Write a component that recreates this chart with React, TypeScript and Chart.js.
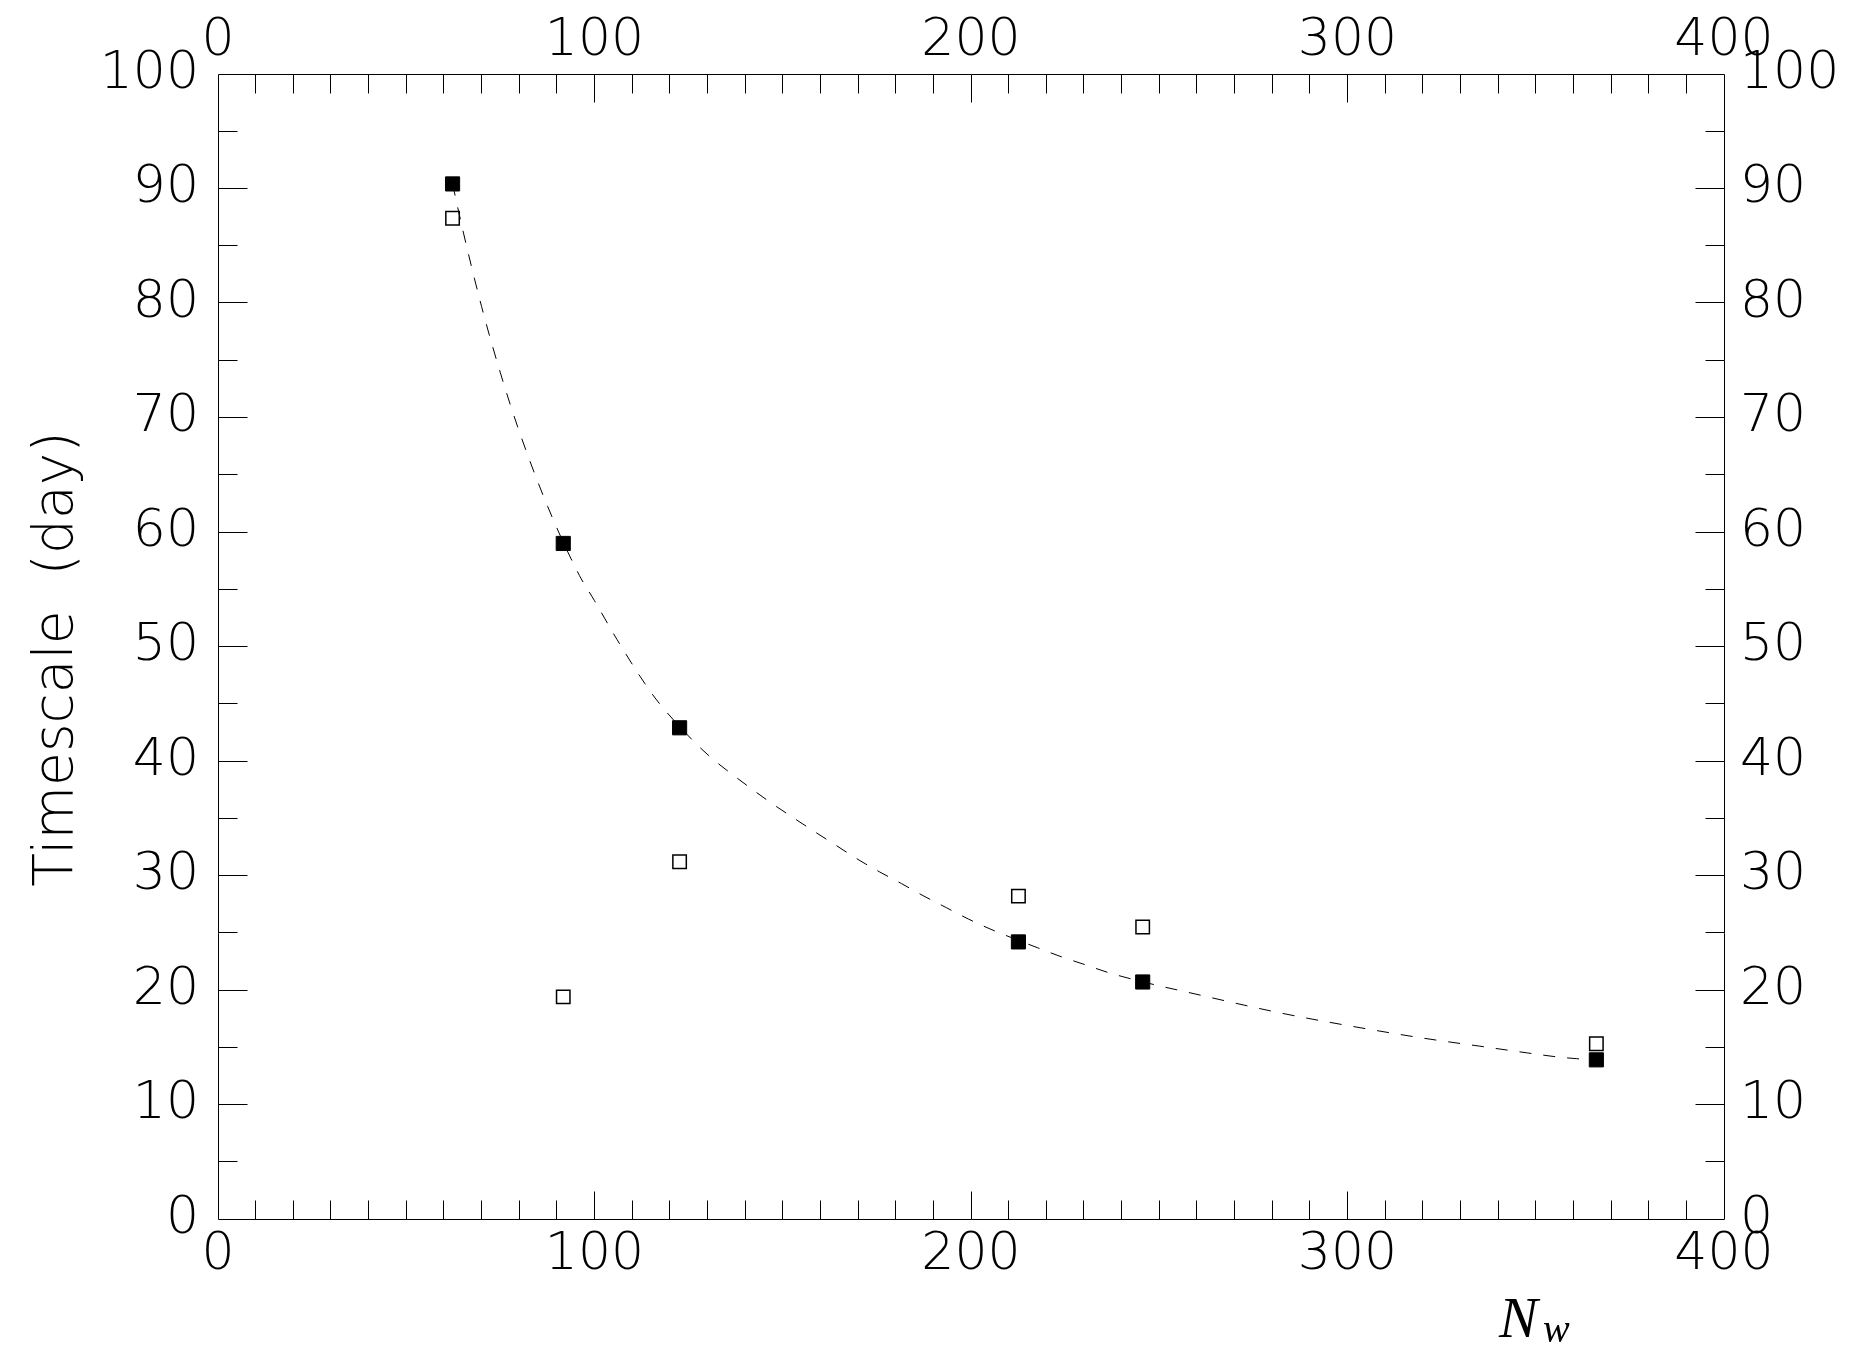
import React, { useEffect, useRef } from 'react';
import { Chart, registerables } from 'chart.js';

Chart.register(...registerables);

// ---- Data ----
const nwValues = [62.3, 91.7, 122.6, 212.6, 245.6, 366.1];
const fittedTimescale = [90.4, 59.0, 42.9, 24.2, 20.7, 13.9];
const observedTimescale = [87.4, 19.4, 31.2, 28.2, 25.5, 15.3];

const curveNw = [
  62.3, 65.0, 70, 75, 80, 87.6, 96, 100, 106, 113.3, 117.3, 126.4, 131.3, 136.7, 142.0,
  146.2, 153.0, 158.6, 164.3, 170.0, 175.8, 181.5, 187.5, 193.4, 199.3, 205.3, 217.6,
  224.0, 230.4, 236.7, 249.5, 254.9, 282.1, 300, 320, 335, 347.9, 354.6, 360.9, 366.1,
];
const curveTimescale = [
  90.4, 86.4, 79.7, 73.9, 68.8, 62.2, 56.2, 54.0, 50.6, 46.8, 45.0, 41.7, 40.2, 38.8, 37.5,
  36.5, 35.0, 33.8, 32.6, 31.4, 30.3, 29.3, 28.2, 27.2, 26.2, 25.3, 23.7,
  22.9, 22.2, 21.5, 20.4, 20.0, 18.0, 16.9, 15.8, 15.1, 14.5, 14.2, 14.0, 13.9,
];

const xTickLabels = [0, 100, 200, 300, 400];
const yTickLabels = [0, 10, 20, 30, 40, 50, 60, 70, 80, 90, 100];

const X_MIN = 0, X_MAX = 400, X_MINOR = 10;
const Y_MIN = 0, Y_MAX = 100, Y_MINOR = 5;

const yTitle = 'Timescale  (day)';
const xTitleMain = 'N';
const xTitleSub = 'w';

const W = 1867, H = 1364;
const TICK_FONT = { family: '"DejaVu Sans"', size: 52, weight: 200 as any };

const framePlugin = {
  id: 'frame',
  afterDraw(chart: any) {
    const { ctx, chartArea: a, scales } = chart;
    const xs = scales.x, ys = scales.y;
    const L = Math.floor(a.left) + 0.5;
    const R = Math.floor(a.right) + 0.5;
    const T = Math.floor(a.top) + 0.5;
    const B = Math.floor(a.bottom) + 0.5;
    ctx.save();
    ctx.strokeStyle = '#000';
    ctx.lineWidth = 1;
    ctx.beginPath();
    ctx.moveTo(L, T); ctx.lineTo(R, T); ctx.lineTo(R, B); ctx.lineTo(L, B); ctx.closePath();
    for (let v = X_MIN; v <= X_MAX + 1e-9; v += X_MINOR) {
      const px = Math.floor(xs.getPixelForValue(v)) + 0.5;
      const len = v % 100 === 0 ? 28 : 19;
      if (v === X_MIN || v === X_MAX) continue;
      ctx.moveTo(px, B); ctx.lineTo(px, B - len);
      ctx.moveTo(px, T); ctx.lineTo(px, T + len);
    }
    for (let v = Y_MIN; v <= Y_MAX + 1e-9; v += Y_MINOR) {
      const py = Math.floor(ys.getPixelForValue(v)) + 0.5;
      const len = v % 10 === 0 ? 29 : 19;
      if (v === Y_MIN || v === Y_MAX) continue;
      ctx.moveTo(L, py); ctx.lineTo(L + len, py);
      ctx.moveTo(R, py); ctx.lineTo(R - len, py);
    }
    ctx.stroke();

    // y-axis title
    ctx.fillStyle = '#000';
    ctx.font = '200 55px "DejaVu Sans"';
    ctx.translate(72, 659);
    ctx.rotate(-Math.PI / 2);
    ctx.textAlign = 'center';
    ctx.textBaseline = 'alphabetic';
    ctx.fillText(yTitle, 0, 0);
    ctx.setTransform(1, 0, 0, 1, 0, 0);

    // x-axis title N_w
    ctx.textAlign = 'left';
    ctx.font = 'italic 58px "Liberation Serif"';
    ctx.fillText(xTitleMain, 1499, 1337);
    ctx.font = 'italic 40px "Liberation Serif"';
    ctx.fillText(xTitleSub, 1543, 1342);
    ctx.restore();
  },
};

export default function App() {
  const ref = useRef<HTMLCanvasElement | null>(null);
  useEffect(() => {
    document.body.style.margin = '0';
    document.body.style.overflow = 'hidden';
    const canvas = ref.current!;
    const chart = new Chart(canvas, {
      type: 'scatter',
      data: {
        datasets: [
          {
            type: 'line',
            label: 'fit',
            data: curveNw.map((x, i) => ({ x, y: curveTimescale[i] })),
            borderColor: '#000',
            borderWidth: 1,
            borderDash: [12, 12],
            pointRadius: 0,
            fill: false,
            cubicInterpolationMode: 'monotone',
          } as any,
          {
            label: 'fitted',
            data: nwValues.map((x, i) => ({ x, y: fittedTimescale[i] })),
            pointStyle: 'rect',
            pointRadius: 10,
            backgroundColor: '#000',
            borderColor: '#000',
            borderWidth: 1,
          },
          {
            label: 'observed',
            data: nwValues.map((x, i) => ({ x, y: observedTimescale[i] })),
            pointStyle: 'rect',
            pointRadius: 9.5,
            backgroundColor: 'rgba(255,255,255,0)',
            borderColor: '#000',
            borderWidth: 1.5,
          },
        ],
      },
      options: {
        responsive: false,
        animation: false,
        devicePixelRatio: 1,
        layout: { padding: 0 },
        plugins: { legend: { display: false }, tooltip: { enabled: false } },
        scales: {
          x: {
            type: 'linear', position: 'bottom', min: X_MIN, max: X_MAX,
            afterBuildTicks: (s: any) => { s.ticks = xTickLabels.map((v) => ({ value: v })); },
            afterFit: (s: any) => { s.height = H - 1219; },
            grid: { display: false, drawTicks: false },
            border: { display: false },
            ticks: { font: TICK_FONT, color: '#000', padding: 5, maxRotation: 0, autoSkip: false },
          },
          x2: {
            type: 'linear', position: 'top', min: X_MIN, max: X_MAX, display: true,
            afterBuildTicks: (s: any) => { s.ticks = xTickLabels.map((v) => ({ value: v })); },
            afterFit: (s: any) => { s.height = 74; },
            grid: { display: false, drawTicks: false },
            border: { display: false },
            ticks: { font: TICK_FONT, color: '#000', padding: 1, maxRotation: 0, autoSkip: false },
          },
          y: {
            type: 'linear', position: 'left', min: Y_MIN, max: Y_MAX,
            afterBuildTicks: (s: any) => { s.ticks = yTickLabels.map((v) => ({ value: v })); },
            afterFit: (s: any) => { s.width = 218; },
            grid: { display: false, drawTicks: false },
            border: { display: false },
            ticks: { font: TICK_FONT, color: '#000', padding: 19, autoSkip: false },
          },
          y2: {
            type: 'linear', position: 'right', min: Y_MIN, max: Y_MAX, display: true,
            afterBuildTicks: (s: any) => { s.ticks = yTickLabels.map((v) => ({ value: v })); },
            afterFit: (s: any) => { s.width = W - 1724; },
            grid: { display: false, drawTicks: false },
            border: { display: false },
            ticks: { font: TICK_FONT, color: '#000', padding: 16, autoSkip: false },
          },
        },
      } as any,
      plugins: [framePlugin],
    });
    return () => chart.destroy();
  }, []);
  return (
    <div style={{ width: W, height: H, background: '#fff' }}>
      <canvas ref={ref} width={W} height={H} style={{ display: 'block' }} />
    </div>
  );
}
